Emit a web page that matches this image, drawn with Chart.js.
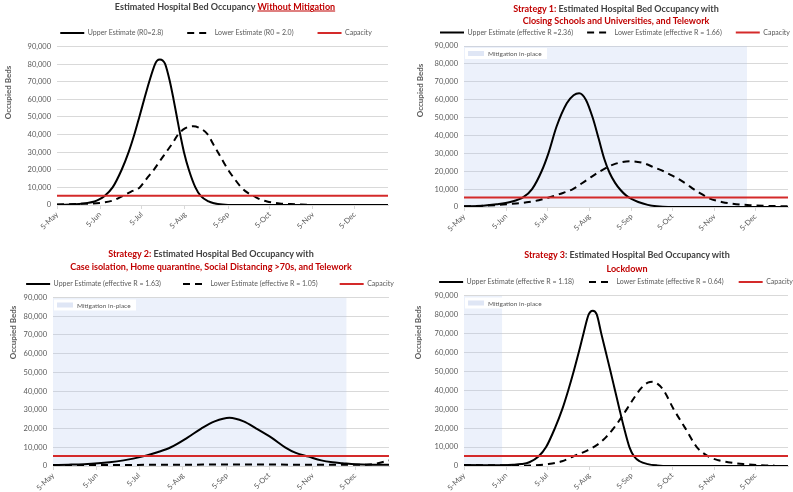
<!DOCTYPE html>
<html><head><meta charset="utf-8">
<script src="https://cdn.jsdelivr.net/npm/chart.js@4.4.1/dist/chart.umd.min.js"></script>
<style>
html,body{margin:0;padding:0;width:793px;height:492px;overflow:hidden;background:#fff;}
canvas{position:absolute;}
.t{position:absolute;transform:translate(-50%,-50%);white-space:nowrap;font:bold 9px Lato,'Liberation Sans',sans-serif;color:#404040;z-index:5;}
.r{color:#c00000;}
.u{text-decoration:underline;}
</style></head><body>
<div class="t" style="left:225px;top:6px">Estimated Hospital Bed Occupancy <span class="r u">Without Mitigation</span></div>
<div class="t" style="left:616px;top:8px"><span class="r">Strategy 1:</span> Estimated Hospital Bed Occupancy with</div>
<div class="t r" style="left:616px;top:20px">Closing Schools and Universities, and Telework</div>
<div class="t" style="left:211px;top:253px"><span class="r">Strategy 2:</span> Estimated Hospital Bed Occupancy with</div>
<div class="t r" style="left:211px;top:266px">Case isolation, Home quarantine, Social Distancing &gt;70s, and Telework</div>
<div class="t" style="left:627px;top:254px"><span class="r">Strategy 3</span>: Estimated Hospital Bed Occupancy with</div>
<div class="t r" style="left:627px;top:268px">Lockdown</div>
<canvas id="c1"></canvas>
<canvas id="c2"></canvas>
<canvas id="c3"></canvas>
<canvas id="c4"></canvas>
<script>
// ---- axis data (days counted from 5-May) ----
const monthTickDays = [0, 31, 61, 92, 123, 153, 184, 214];
const monthTickLabels = ['5-May','5-Jun','5-Jul','5-Aug','5-Sep','5-Oct','5-Nov','5-Dec'];
const axisEndDay = 238;
const yMaxBeds = 90000;
const yStepBeds = 10000;
const capacityBeds = 5300;
const yAxisTitle = 'Occupied Beds';

// ---- Without mitigation ----
const noMitUpperDays = [0,5,10,16,22,27,30,34,40,46.5,51.5,55.6,59.2,62.7,66.3,70.5,72,74,76,77.8,81.2,83.8,86.2,88.6,91.3,94.8,99.5,103.5,109,113,119,127,238];
const noMitUpperBeds = [150,200,300,600,1200,2000,3000,5000,10000,20000,30000,40000,50000,60000,70000,80000,82000,82600,82000,80000,70000,60000,50000,40000,30000,20000,10000,5000,2000,1000,300,0,0];
const noMitLowerDays = [0,15,31,40,47,53,59.5,64.5,69.6,74,78.5,83,87,92,98,103,108.5,112,115.7,119.3,123,127.5,132.5,137,141.6,146,151,160,168,180];
const noMitLowerBeds = [300,600,1200,2500,5000,7500,10000,15000,20000,25000,30000,35000,40000,43500,44700,43500,40000,35000,30000,25000,20000,15000,10000,7000,5000,3200,2000,900,500,200];

// ---- Strategy 1 ----
const s1UpperDays = [0,14,24,34,43.6,50,57,62,68,75.5,80.5,84.6,89.5,94.5,99,103,107,111,115,119,123,128,135,141.6,150,238];
const s1UpperBeds = [400,700,1500,2800,5500,10000,20000,30000,45000,58000,62500,63600,60000,50000,38000,27000,19000,13500,9500,6500,4500,2800,1200,400,0,0];
const s1LowerDays = [0,14,26,35,46,55,61,70,80,90,100,110,122,132,140,146.6,153,159,164,168.6,174,179.7,190,196,210,225,238];
const s1LowerBeds = [300,700,1200,1800,2600,3800,5000,7200,10000,15000,20000,23800,25600,24500,22000,20000,17500,15000,12500,10000,7500,5000,2700,2000,1000,600,400];
const s1MitigationDays = [0, 208];

// ---- Strategy 2 ----
const s2UpperDays = [0,11,22,40,50,63,74.5,83.5,95,105,114.5,125,135,144,155,164.4,172,181,190,198,205,214,225,238];
const s2UpperBeds = [500,700,1000,2000,3000,5000,7500,10000,15000,20000,23800,25750,23800,20000,15000,10000,7000,5000,3000,2000,1500,900,700,700];
const s2LowerDays = [0,30,60,90,120,150,180,200,215,222,228,233,238];
const s2LowerBeds = [300,500,600,700,750,750,700,650,650,700,1200,2000,3000];
const s2MitigationDays = [0, 208];

// ---- Strategy 3 ----
const s3UpperDays = [0,15,30,36,42,48,54.7,60.3,66.8,72.2,76.6,80.6,84.3,87.8,91.6,94.6,97.5,100.8,104.2,107.6,110.9,114.2,117.6,121.5,125,129,135,142,150,238];
const s3UpperBeds = [500,450,400,600,1000,2000,5000,10000,20000,30000,40000,50000,60000,70000,80000,82000,80000,70000,60000,50000,40000,30000,20000,10000,5000,2500,1000,300,0,0];
const s3LowerDays = [0,15,30,38,45,52,62,72,80,90,97.5,104,110,115,119.6,125,130,135,138.5,142,146.6,154,162.5,171,179.7,187,194,205,215,222.5,228];
const s3LowerBeds = [500,450,350,200,150,300,1000,2500,5000,8000,11000,15000,20000,25000,30000,36000,41000,44000,44500,43500,40000,30000,20000,10000,5000,3000,2000,1000,500,300,200];
const s3MitigationDays = [0, 28];

const FONT = "Lato, 'Liberation Sans', sans-serif";
const GREY = '#595959';
const MIT_LABEL = 'Mitigation in-place';

function pts(days, beds) { return days.map((d, i) => ({x: d, y: beds[i]})); }

const mitigationLegendPlugin = {
  id: 'mitLegend',
  afterDraw(chart) {
    const ds = chart.data.datasets.find(d => d.label === MIT_LABEL);
    if (!ds) return;
    const a = chart.chartArea, ctx = chart.ctx;
    ctx.save();
    ctx.fillStyle = '#ffffff';
    ctx.fillRect(a.left + 1, a.top + 2, 82, 11);
    ctx.fillStyle = '#dfe6f5';
    ctx.fillRect(a.left + 4, a.top + 5, 16, 5);
    ctx.fillStyle = GREY;
    ctx.font = '6.5px ' + FONT;
    ctx.textBaseline = 'middle';
    ctx.fillText(MIT_LABEL, a.left + 24, a.top + 8);
    ctx.restore();
  }
};

const yTitlePlugin = {
  id: 'yTitle',
  afterDraw(chart, args, opts) {
    const ctx = chart.ctx;
    ctx.save();
    ctx.translate(opts.x, opts.y);
    ctx.rotate(-Math.PI / 2);
    ctx.fillStyle = GREY;
    ctx.font = 'bold 8px ' + FONT;
    ctx.textAlign = 'center';
    ctx.textBaseline = 'middle';
    ctx.fillText(yAxisTitle, 0, 0);
    ctx.restore();
  }
};

function legendLabels(chart) {
  const items = Chart.defaults.plugins.legend.labels.generateLabels(chart);
  items.forEach(it => {
    const ds = chart.data.datasets[it.datasetIndex];
    it.lineDash = ds.borderDash || [];
    it.lineWidth = 2;
    it.strokeStyle = ds.borderColor;
  });
  return items.filter(it => it.text !== MIT_LABEL).sort((a, b) => a.datasetIndex - b.datasetIndex);
}

const EXTRA = 25; // extra canvas room on both sides, keeps legend centred

function makePanel(id, p) {
  const cv = document.getElementById(id);
  const left = p.chartLeft - EXTRA;
  const yW = p.plotLeft - left;
  const W2 = 2 * p.legendCx - left - p.plotRight;
  const w = p.plotRight + W2 - left;
  const top = p.legendCy - p.legPad - 3.5;
  const h = p.bottom - top;
  cv.width = w; cv.height = h;
  cv.style.left = left + 'px'; cv.style.top = top + 'px';
  const padTop = p.plotTop - top;
  const xH = p.bottom - p.plotBottom;
  const datasets = [];
  if (p.mit) {
    datasets.push({label: MIT_LABEL, data: p.mit.map(d => ({x: d, y: yMaxBeds})),
      borderWidth: 0, pointRadius: 0, fill: 'origin', backgroundColor: 'rgba(180,198,240,0.25)', order: 10});
  }
  datasets.push({label: p.upperLabel, data: pts(p.ud, p.ub), borderColor: '#000', borderWidth: 2,
    pointRadius: 0, cubicInterpolationMode: 'monotone', fill: false, order: 3});
  datasets.push({label: p.lowerLabel, data: pts(p.ld, p.lb), borderColor: '#000', borderWidth: 2,
    borderDash: [7, 5], pointRadius: 0, cubicInterpolationMode: 'monotone', fill: false, order: 2});
  datasets.push({label: 'Capacity', data: [{x: 0, y: capacityBeds}, {x: axisEndDay, y: capacityBeds}],
    borderColor: '#d42a2a', borderWidth: 2, pointRadius: 0, fill: false, order: 1});
  new Chart(cv, {
    type: 'line',
    data: {datasets},
    plugins: [mitigationLegendPlugin, yTitlePlugin],
    options: {
      responsive: false, animation: false, devicePixelRatio: 1,
      layout: {padding: 0},
      plugins: {
        tooltip: {enabled: false},
        title: {display: false},
        yTitle: {x: p.titleX - left, y: p.titleY - top},
        legend: {
          position: 'top',
          labels: {
            usePointStyle: true, pointStyle: 'line', pointStyleWidth: 24, padding: p.legPad,
            color: GREY, font: {size: 7, family: FONT},
            generateLabels: legendLabels
          }
        }
      },
      scales: {
        x: {
          type: 'linear', min: 0, max: axisEndDay,
          afterBuildTicks: (s) => { s.ticks = monthTickDays.map(v => ({value: v})); },
          afterFit: (s) => { s.height = xH; },
          ticks: {autoSkip: false, minRotation: 45, maxRotation: 45, color: GREY,
            font: {size: 7.5, family: FONT}, padding: 1,
            callback: (v, i) => monthTickLabels[i]},
          grid: {drawOnChartArea: false, drawTicks: true, tickLength: 4, color: '#d9d9d9'},
          border: {display: true, color: '#d9d9d9'}
        },
        y: {
          min: 0, max: yMaxBeds,
          afterFit: (s) => { s.width = yW; s.paddingTop = padTop; },
          ticks: {stepSize: yStepBeds, color: GREY, padding: 6, font: {size: 7.5, family: FONT},
            callback: (v) => v.toLocaleString('en-US')},
          grid: {color: '#d9d9d9', drawTicks: false},
          border: {display: false},
          title: {display: false}
        },
        yR: {
          position: 'right', min: 0, max: 1, display: true,
          afterFit: (s) => { s.width = W2; },
          ticks: {display: false}, grid: {display: false}, border: {display: false}
        }
      }
    }
  });
}

makePanel('c1', {chartLeft: 0, plotLeft: 57, plotRight: 388, plotTop: 46, plotBottom: 205, bottom: 245,
  legendCx: 216, legendCy: 28, legPad: 24, titleX: 8, titleY: 92,
  upperLabel: 'Upper Estimate (R0=2.8)', lowerLabel: 'Lower Estimate (R0 = 2.0)',
  ud: noMitUpperDays, ub: noMitUpperBeds, ld: noMitLowerDays, lb: noMitLowerBeds});
makePanel('c2', {chartLeft: 411, plotLeft: 464, plotRight: 788, plotTop: 45, plotBottom: 207, bottom: 247,
  legendCx: 615, legendCy: 32, legPad: 14, titleX: 420, titleY: 90,
  upperLabel: 'Upper Estimate (effective R =2.36)', lowerLabel: 'Lower Estimate (effective R = 1.66)',
  ud: s1UpperDays, ub: s1UpperBeds, ld: s1LowerDays, lb: s1LowerBeds, mit: s1MitigationDays});
makePanel('c3', {chartLeft: 4, plotLeft: 53, plotRight: 389, plotTop: 297, plotBottom: 466, bottom: 492,
  legendCx: 210, legendCy: 279, legPad: 22, titleX: 13, titleY: 332,
  upperLabel: 'Upper Estimate (effective R = 1.63)', lowerLabel: 'Lower Estimate (effective R = 1.05)',
  ud: s2UpperDays, ub: s2UpperBeds, ld: s2LowerDays, lb: s2LowerBeds, mit: s2MitigationDays});
makePanel('c4', {chartLeft: 409, plotLeft: 464, plotRight: 788, plotTop: 295, plotBottom: 466, bottom: 492,
  legendCx: 616, legendCy: 280, legPad: 15, titleX: 418, titleY: 332,
  upperLabel: 'Upper Estimate (effective R = 1.18)', lowerLabel: 'Lower Estimate (effective R = 0.64)',
  ud: s3UpperDays, ub: s3UpperBeds, ld: s3LowerDays, lb: s3LowerBeds, mit: s3MitigationDays});
</script>
</body></html>
